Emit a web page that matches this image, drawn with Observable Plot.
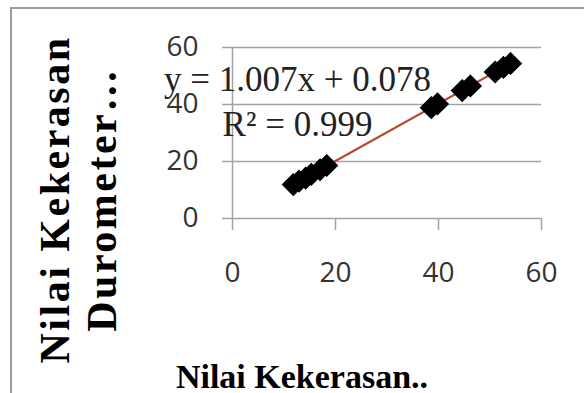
<!DOCTYPE html>
<html><head><meta charset="utf-8">
<script src="https://cdn.jsdelivr.net/npm/d3@7"></script>
<script src="https://cdn.jsdelivr.net/npm/@observablehq/plot@0.6"></script>
<style>
html,body{margin:0;padding:0;background:#fff;}
#wrap{position:relative;width:584px;height:393px;overflow:hidden;}
#border{position:absolute;left:10px;top:7px;right:-10px;bottom:-10px;border-left:2px solid #9c9c9c;border-top:2px solid #9c9c9c;}
#chart{position:absolute;left:0;top:0;}
g[font-size="42"]{letter-spacing:2.5px;}
</style></head><body>
<div id="wrap"><div id="border"></div><div id="chart"></div></div>
<script>
// Data
const xValues = [11.8, 12.9, 14.2, 15.3, 17.0, 18.3, 38.6, 39.8, 44.6, 46.2, 51.0, 52.6, 54.0];
const yValues = [11.9, 13.1, 14.2, 15.5, 17.1, 18.6, 38.9, 40.2, 44.9, 46.5, 51.4, 53.0, 54.4];
const xTicks = [0, 20, 40, 60];
const yTicks = [0, 20, 40, 60];
const equationLines = ["y = 1.007x + 0.078", "R² = 0.999"];
const xTitle = "Nilai Kekerasan..";
const yTitleLines = ["Nilai Kekerasan", "Durometer…"];

const points = xValues.map((x, i) => ({x, y: yValues[i]}));
const gray = "#a3a3a3";

const chart = Plot.plot({
  width: 584,
  height: 393,
  marginLeft: 232,
  marginRight: 43,
  marginTop: 47,
  marginBottom: 175,
  x: {domain: [0, 60]},
  y: {domain: [0, 60]},
  style: {background: "transparent", overflow: "visible", fontFamily: "Open Sans"},
  marks: [
    Plot.gridY({ticks: yTicks, stroke: gray, strokeOpacity: 1, strokeWidth: 1.5}),
    Plot.ruleX([0], {stroke: gray, strokeWidth: 1.5}),
    Plot.axisX({ticks: xTicks, tickSize: 12, tickPadding: 32, stroke: gray, strokeWidth: 1.5,
      fill: "#333", fontSize: 28, fontFamily: "Open Sans", label: null, tickFormat: d => String(d)}),
    Plot.axisY({ticks: yTicks, tickSize: 10, tickPadding: 24, stroke: gray, strokeWidth: 1.5,
      fill: "#333", fontSize: 28, fontFamily: "Open Sans", label: null, tickFormat: d => String(d)}),
    Plot.linearRegressionY(points, {x: "x", y: "y", stroke: "#b84a2e", strokeWidth: 2.2, ci: 0}),
    Plot.dot(points, {x: "x", y: "y", symbol: "diamond2", r: 9.5, fill: "black", stroke: "black"}),
    Plot.text([equationLines.join("\n")], {text: d => d, frameAnchor: "top-left", dx: 65, dy: 11,
      textAnchor: "middle", lineAnchor: "top", lineHeight: 1.29, fontSize: 35,
      fontFamily: "Liberation Serif", fill: "#222"}),
    Plot.text([xTitle], {text: d => d, frameAnchor: "bottom", dx: -85, dy: 169, lineAnchor: "bottom",
      fontSize: 34, fontWeight: "bold", fontFamily: "Liberation Serif", fill: "black"}),
    Plot.text([yTitleLines.join("\n")], {text: d => d, frameAnchor: "left", dx: -155.5, dy: 66.5,
      rotate: -90, textAnchor: "middle", lineAnchor: "middle", lineHeight: 1.12, fontSize: 42,
      fontWeight: "bold", fontFamily: "Liberation Serif", fill: "black"})
  ]
});
document.getElementById("chart").appendChild(chart);
</script>
</body></html>
